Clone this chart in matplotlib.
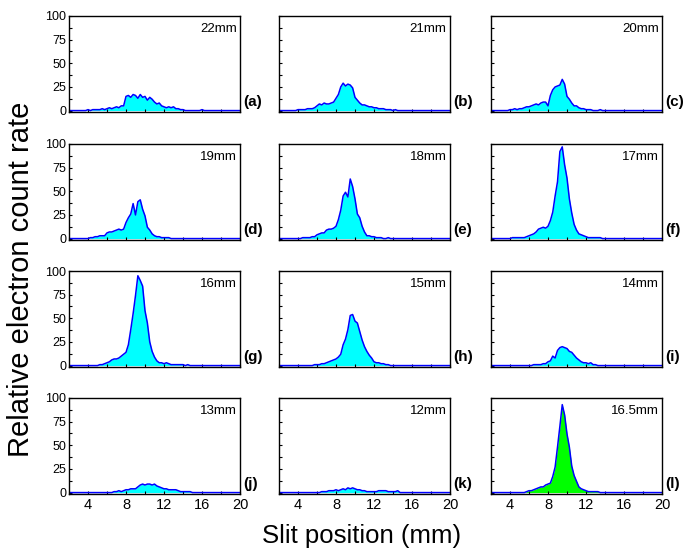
import matplotlib
matplotlib.use("Agg")
import matplotlib.pyplot as plt
from matplotlib.ticker import MultipleLocator
import numpy as np

plt.rcParams['font.family'] = ['Liberation Sans', 'DejaVu Sans']

# slit positions where the counts were read (mm), 0.25 mm bins between 4 and 16
slit_mm = np.arange(4.0, 16.01, 0.25)

# relative electron count rate for each detector distance
counts_22mm = [1, 0, 1, 1, 1, 1, 2, 1,
               2, 3, 2, 3, 4, 3, 5, 5,
               15, 16, 14, 17, 16, 13, 17, 14,
               15, 11, 14, 12, 9, 7, 8, 5,
               4, 3, 4, 3, 4, 2, 2, 1,
               1, 0, 0, 0, 0, 0, 0, 0, 1]
counts_21mm = [1, 1, 1, 1, 2, 2, 2, 3,
               5, 7, 6, 8, 7, 7, 8, 9,
               13, 17, 25, 29, 26, 28, 27, 24,
               14, 11, 8, 6, 6, 5, 4, 4,
               3, 3, 2, 2, 2, 1, 1, 1,
               0, 1, 0, 0, 0, 0, 0, 0, 0]
counts_20mm = [1, 1, 2, 1, 2, 2, 3, 4,
               4, 5, 6, 7, 6, 8, 9, 9,
               5, 16, 22, 25, 26, 27, 33, 28,
               15, 12, 8, 5, 5, 3, 2, 2,
               1, 1, 1, 0, 0, 0, 1, 0,
               0, 0, 0, 0, 0, 0, 0, 0, 0]
counts_19mm = [0, 1, 1, 2, 2, 3, 3, 3,
               6, 7, 7, 8, 9, 10, 9, 10,
               17, 22, 26, 37, 25, 39, 41, 31,
               24, 12, 9, 5, 3, 2, 2, 1,
               1, 1, 1, 0, 0, 0, 0, 0,
               0, 0, 0, 0, 0, 0, 0, 0, 0]
counts_18mm = [0, 0, 1, 1, 1, 1, 2, 2,
               4, 5, 6, 6, 9, 10, 10, 11,
               13, 20, 30, 45, 49, 44, 63, 55,
               42, 26, 22, 13, 7, 3, 3, 2,
               2, 1, 1, 1, 0, 0, 1, 0,
               0, 0, 0, 0, 0, 0, 0, 0, 0]
counts_17mm = [0, 1, 1, 1, 1, 1, 1, 2,
               3, 4, 5, 7, 10, 11, 12, 11,
               13, 19, 28, 45, 60, 92, 97, 78,
               64, 42, 27, 15, 9, 5, 4, 3,
               2, 1, 1, 1, 1, 1, 1, 0,
               0, 0, 0, 0, 0, 0, 0, 0, 0]
counts_16mm = [0, 0, 0, 0, 0, 1, 1, 2,
               3, 4, 6, 7, 7, 8, 10, 12,
               14, 22, 38, 55, 74, 95, 90, 84,
               58, 45, 25, 15, 9, 5, 3, 3,
               2, 3, 2, 1, 1, 1, 1, 1,
               1, 0, 1, 0, 0, 0, 0, 0, 0]
counts_15mm = [0, 0, 0, 0, 0, 0, 0, 1,
               1, 1, 2, 2, 3, 4, 5, 6,
               7, 9, 12, 22, 28, 38, 53, 54,
               47, 45, 36, 27, 20, 15, 11, 8,
               4, 3, 3, 2, 2, 1, 1, 0,
               0, 0, 0, 0, 0, 0, 0, 0, 0]
counts_14mm = [0, 0, 0, 0, 0, 0, 0, 0,
               0, 0, 1, 1, 1, 1, 2, 2,
               4, 5, 10, 8, 16, 19, 20, 19,
               18, 15, 14, 11, 8, 6, 4, 3,
               3, 2, 3, 1, 1, 0, 0, 0,
               0, 0, 0, 0, 0, 0, 0, 0, 0]
counts_13mm = [0, 0, 0, 0, 0, 0, 0, 0,
               0, 0, 0, 1, 1, 2, 1, 2,
               3, 3, 4, 4, 4, 6, 8, 9,
               8, 9, 9, 8, 9, 7, 6, 5,
               4, 4, 3, 3, 3, 3, 2, 1,
               1, 1, 1, 1, 0, 0, 0, 0, 0]
counts_12mm = [0, 0, 0, 0, 0, 0, 0, 0,
               0, 0, 1, 1, 1, 2, 2, 2,
               3, 2, 3, 4, 3, 5, 4, 5,
               4, 3, 3, 2, 2, 1, 1, 1,
               1, 1, 2, 2, 2, 2, 1, 1,
               1, 1, 2, 0, 0, 0, 0, 0, 0]
counts_16_5mm = [0, 0, 0, 0, 0, 0, 0, 1,
                 2, 2, 3, 4, 5, 6, 6, 8,
                 9, 10, 17, 27, 48, 70, 93, 82,
                 62, 48, 28, 18, 12, 6, 4, 3,
                 2, 1, 1, 1, 1, 1, 0, 0,
                 0, 0, 0, 0, 0, 0, 0, 0, 0]

distances = ['22mm', '21mm', '20mm', '19mm', '18mm', '17mm',
             '16mm', '15mm', '14mm', '13mm', '12mm', '16.5mm']
panel_tags = ['(a)', '(b)', '(c)', '(d)', '(e)', '(f)',
              '(g)', '(h)', '(i)', '(j)', '(k)', '(l)']
profiles = [counts_22mm, counts_21mm, counts_20mm, counts_19mm,
            counts_18mm, counts_17mm, counts_16mm, counts_15mm,
            counts_14mm, counts_13mm, counts_12mm, counts_16_5mm]

# pad the profiles with empty bins so the trace runs over the whole slit range
pad_left = np.arange(2.0, 4.0, 0.25)
pad_right = np.arange(16.25, 20.01, 0.25)
x_full = np.concatenate([pad_left, slit_mm, pad_right])

fig = plt.figure(figsize=(6.87, 5.54), dpi=100)

col_left = [69, 279, 491]
row_top = [16, 144, 271, 398]
W, H = 687.0, 554.0

for i, (prof, dist, tag) in enumerate(zip(profiles, distances, panel_tags)):
    r, c = divmod(i, 3)
    ax = fig.add_axes([col_left[c] / W, 1 - (row_top[r] + 96) / H,
                       171 / W, 96 / H])
    y_full = np.concatenate([np.zeros(len(pad_left)), prof,
                             np.zeros(len(pad_right))])
    fill_col = '#00ff00' if dist == '16.5mm' else '#00ffff'
    ax.fill_between(x_full, y_full, 0, color=fill_col, lw=0)
    ax.plot(x_full, y_full, color='#0000ff', lw=1.1)

    ax.set_xlim(2, 20)
    ax.set_ylim(-1.5, 100)
    ax.xaxis.set_major_locator(MultipleLocator(4))
    ax.xaxis.set_minor_locator(MultipleLocator(2))
    ax.yaxis.set_major_locator(MultipleLocator(25))
    ax.yaxis.set_minor_locator(MultipleLocator(12.5))
    ax.tick_params(which='both', direction='in', length=2.5, width=0.8,
                   labelsize=9, pad=2)
    for s in ax.spines.values():
        s.set_linewidth(1.0)
    if c != 0:
        ax.set_yticklabels([])
    else:
        ax.set_yticks([0, 25, 50, 75, 100])
    if r != 3:
        ax.set_xticklabels([])
    else:
        ax.tick_params(axis='x', labelsize=10.5, pad=3)

    ax.text(0.98, 0.93, dist, transform=ax.transAxes, ha='right', va='top',
            fontsize=9.5)
    ax.text(1.02, 0.1, tag, transform=ax.transAxes, ha='left', va='center',
            fontsize=11, fontweight='bold')

fig.text(0.03, 0.495, 'Relative electron count rate', rotation=90,
         ha='center', va='center', fontsize=21)
fig.text(0.527, 0.032, 'Slit position (mm)', ha='center', va='center',
         fontsize=18.5)

fig.savefig('out.png', dpi=100)
